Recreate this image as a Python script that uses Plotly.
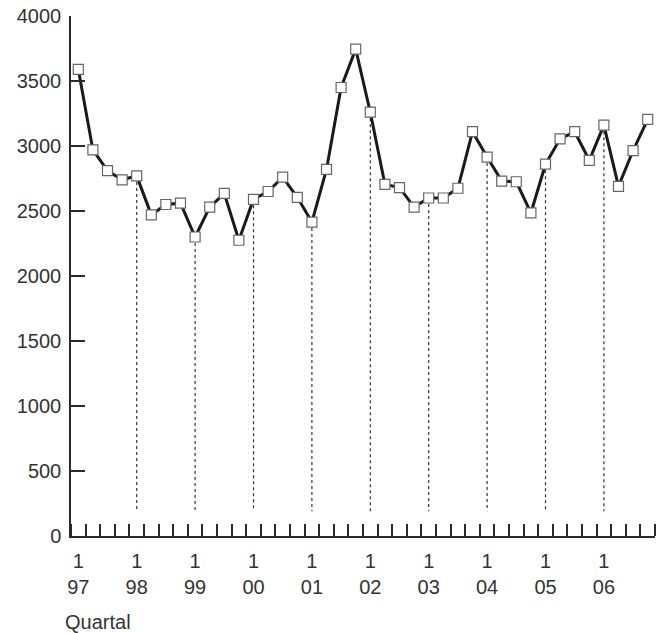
import plotly.graph_objects as go

years = ["97", "98", "99", "00", "01", "02", "03", "04", "05", "06"]
quarters = [1, 2, 3, 4]
values = [3590, 2970, 2810, 2740, 2770, 2470, 2550, 2560, 2300, 2530,
          2635, 2275, 2590, 2650, 2760, 2605, 2415, 2820, 3450, 3745,
          3260, 2705, 2680, 2530, 2600, 2600, 2675, 3110, 2915, 2730,
          2725, 2485, 2860, 3055, 3110, 2890, 3160, 2690, 2965, 3205]
y_ticks = [0, 500, 1000, 1500, 2000, 2500, 3000, 3500, 4000]
x_title = "Quartal"

FONT = "Liberation Sans"
TXT = "#333333"
AX = "#2a2a2a"
DROP_BASE = 190

n = len(values)
xs = list(range(n))
q1_idx = [i * 4 for i in range(len(years))]
q1_labels = [f"1<br>{y}" for y in years]

fig = go.Figure()

# dotted drop lines at Q1 (except the first)
dx, dy = [], []
for i in q1_idx[1:]:
    dx += [i, i, None]
    dy += [values[i], DROP_BASE, None]
fig.add_trace(go.Scatter(x=dx, y=dy, mode="lines",
                         line=dict(color="#333333", width=1.2, dash="3px,3px"),
                         hoverinfo="skip", showlegend=False))

fig.add_trace(go.Scatter(
    x=xs, y=values, mode="lines+markers",
    line=dict(color="#1a1a1a", width=3),
    marker=dict(symbol="square", size=10, color="white",
                line=dict(color="#666666", width=1.2)),
    showlegend=False, cliponaxis=False))

fig.update_layout(
    width=665, height=633,
    margin=dict(l=71, r=10, t=16, b=97),
    paper_bgcolor="white", plot_bgcolor="white",
    font=dict(family=FONT, size=20, color=TXT),
    showlegend=False,
    xaxis=dict(
        range=[-0.5, n - 0.5],
        tickmode="array", tickvals=q1_idx, ticktext=q1_labels,
        ticks="", showgrid=False, zeroline=False,
        showline=True, linecolor=AX, linewidth=2,
        tickfont=dict(family=FONT, size=20, color=TXT),
        ticklabelstandoff=6,
        minor=dict(tickmode="linear", tick0=0.5, dtick=1,
                   ticks="inside", ticklen=12, tickwidth=1.5,
                   tickcolor=AX, showgrid=False),
        automargin=False,
        fixedrange=True,
    ),
    yaxis=dict(
        range=[0, 4000],
        tickmode="array", tickvals=y_ticks,
        ticks="inside", ticklen=14, tickwidth=1.5, tickcolor=AX,
        showgrid=False, zeroline=False,
        showline=True, linecolor=AX, linewidth=1.5,
        tickfont=dict(family=FONT, size=20, color=TXT),
        ticklabelstandoff=4,
        automargin=False,
        fixedrange=True,
    ),
    annotations=[dict(
        text=x_title, xref="paper", yref="paper", x=0, y=0,
        xanchor="left", yanchor="middle", xshift=-8, yshift=-86,
        showarrow=False, font=dict(family=FONT, size=20, color=TXT))],
)

fig.write_html("out.html", config={"displayModeBar": False},
               post_script="document.body.style.margin='0px';")
